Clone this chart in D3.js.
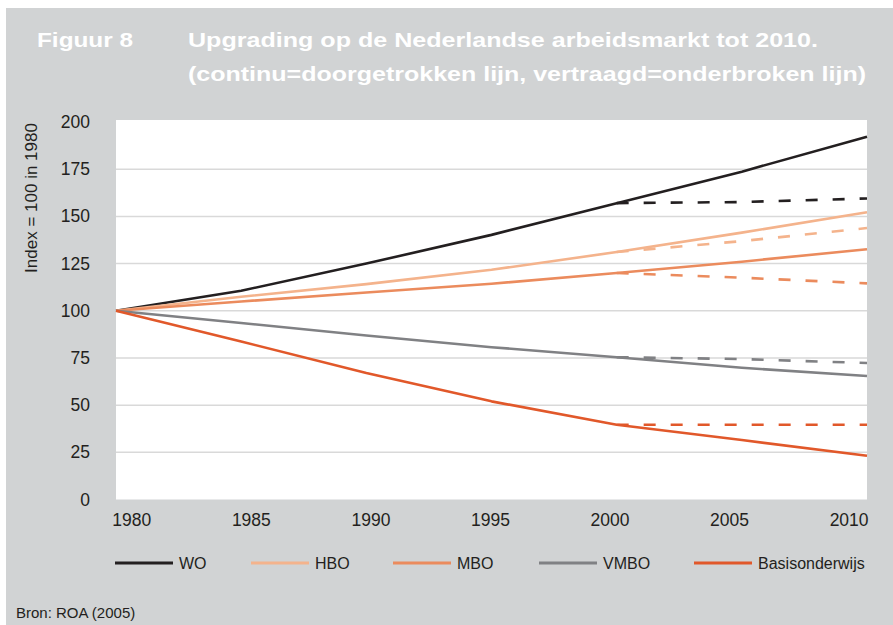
<!DOCTYPE html>
<meta charset="utf-8">

<!-- Load d3.js -->
<script src="https://d3js.org/d3.v7.min.js"></script>

<style>
    body { margin: 0; background: #fff; }
    text { font-family: "Liberation Sans", Arial, sans-serif; fill: #231f20; }
</style>

<!-- Create a div where the graph will take place -->
<div id="my_dataviz"></div>

<script>

    // Years on the x axis
    const years = [1980, 1985, 1990, 1995, 2000, 2005, 2010]
    const tickYears = ["1980", "1985", "1990", "1995", "2000", "2005", "2010"]

    // continu scenario (solid lines), index 1980 = 100
    const wo = [100, 110.6, 125, 140.2, 157, 173.7, 192.2]
    const hbo = [100, 107.4, 114.1, 121.7, 131.1, 141.4, 152.2]
    const mbo = [100, 104.9, 109.7, 114.3, 120, 126, 132.6]
    const vmbo = [100, 93.5, 86.9, 80.7, 75.4, 69.8, 65.4]
    const basis = [100, 83.7, 67, 52, 39.6, 31.5, 23.2]

    // vertraagd scenario (dashed lines), from 2000 on
    const delayYears = [2000, 2005, 2010]
    const woDelay = [157, 157.6, 159.5]
    const hboDelay = [131.1, 136.9, 143.8]
    const mboDelay = [120, 117.5, 114.5]
    const vmboDelay = [75.4, 74.4, 72.3]
    const basisDelay = [39.6, 39.6, 39.6]

    const yTicks = [0, 25, 50, 75, 100, 125, 150, 175, 200]

    const series = [
        { name: "WO", color: "#231f20", values: wo, delay: woDelay },
        { name: "HBO", color: "#f4b38c", values: hbo, delay: hboDelay },
        { name: "MBO", color: "#eb8b5d", values: mbo, delay: mboDelay },
        { name: "VMBO", color: "#808184", values: vmbo, delay: vmboDelay },
        { name: "Basisonderwijs", color: "#e1582a", values: basis, delay: basisDelay }
    ]

    const width = 893, height = 625

    const svg = d3.select("#my_dataviz")
        .append("svg")
        .attr("width", width)
        .attr("height", height)

    // grey panel
    svg.append("rect")
        .attr("x", 6).attr("y", 8)
        .attr("width", width - 6).attr("height", height - 8)
        .attr("fill", "#d1d3d4")

    // title
    svg.append("text")
        .attr("x", 37).attr("y", 47)
        .attr("textLength", 96).attr("lengthAdjust", "spacingAndGlyphs")
        .style("font-size", "20.5px").style("font-weight", "bold").style("fill", "#fff")
        .text("Figuur 8")
    svg.append("text")
        .attr("x", 188).attr("y", 47)
        .attr("textLength", 630).attr("lengthAdjust", "spacingAndGlyphs")
        .style("font-size", "20.5px").style("font-weight", "bold").style("fill", "#fff")
        .text("Upgrading op de Nederlandse arbeidsmarkt tot 2010.")
    svg.append("text")
        .attr("x", 188).attr("y", 81)
        .attr("textLength", 678).attr("lengthAdjust", "spacingAndGlyphs")
        .style("font-size", "20.5px").style("font-weight", "bold").style("fill", "#fff")
        .text("(continu=doorgetrokken lijn, vertraagd=onderbroken lijn)")

    // scales
    const x = d3.scaleLinear()
        .domain([1980, 2010])
        .range([116, 867])

    const y = d3.scaleLinear()
        .domain([0, 200])
        .range([499.5, 122])

    // tick labels sit on their own evenly spaced positions
    const xLab = d3.scalePoint()
        .domain(tickYears)
        .range([131.3, 848.6])

    // plot area
    svg.append("rect")
        .attr("x", x(1980)).attr("y", 120)
        .attr("width", x(2010) - x(1980)).attr("height", y(0) - 120)
        .attr("fill", "#fff")

    // gridlines
    svg.append("g")
        .selectAll("line")
        .data(yTicks.filter(d => d > 0 && d < 200))
        .join("line")
        .attr("x1", x(1980)).attr("x2", x(2010))
        .attr("y1", d => y(d)).attr("y2", d => y(d))
        .attr("stroke", "#d9d9d9")
        .attr("stroke-width", 1.5)

    // y axis
    const yAxis = svg.append("g")
        .attr("transform", "translate(90,0)")
        .call(d3.axisLeft(y).tickValues(yTicks).tickSize(0).tickPadding(0))
    yAxis.select(".domain").remove()
    yAxis.selectAll("text")
        .style("font-size", "17.5px")
        .style("font-family", "Liberation Sans, Arial, sans-serif")
        .attr("fill", "#231f20")

    // x axis
    const xAxis = svg.append("g")
        .attr("transform", "translate(0,514)")
        .call(d3.axisBottom(xLab).tickSize(0).tickPadding(0))
    xAxis.select(".domain").remove()
    xAxis.selectAll("text")
        .style("font-size", "17.5px")
        .style("font-family", "Liberation Sans, Arial, sans-serif")
        .attr("fill", "#231f20")

    // y title
    svg.append("text")
        .attr("transform", "translate(37,198) rotate(-90)")
        .attr("text-anchor", "middle")
        .style("font-size", "17px")
        .text("Index = 100 in 1980")

    const line = d3.line()
        .x(d => x(d[0]))
        .y(d => y(d[1]))

    // dashed lines (vertraagd)
    svg.append("g")
        .selectAll("path")
        .data(series)
        .join("path")
        .attr("d", d => line(delayYears.map((yr, i) => [yr, d.delay[i]])))
        .attr("fill", "none")
        .attr("stroke", d => d.color)
        .attr("stroke-width", 2.6)
        .attr("stroke-dasharray", "12,15")

    // solid lines (continu)
    svg.append("g")
        .selectAll("path")
        .data(series)
        .join("path")
        .attr("d", d => line(years.map((yr, i) => [yr, d.values[i]])))
        .attr("fill", "none")
        .attr("stroke", d => d.color)
        .attr("stroke-width", 2.6)
        .attr("stroke-linejoin", "round")

    // legend
    const legX = [115, 251, 393, 539, 694]
    const leg = svg.append("g")
        .selectAll("g")
        .data(series)
        .join("g")
        .attr("transform", (d, i) => `translate(${legX[i]},563)`)
    leg.append("line")
        .attr("x1", 0).attr("x2", 58)
        .attr("stroke", d => d.color)
        .attr("stroke-width", 2.8)
    leg.append("text")
        .attr("x", 64).attr("y", 6)
        .style("font-size", "16px")
        .text(d => d.name)

    // source
    svg.append("text")
        .attr("x", 16).attr("y", 618)
        .style("font-size", "15px")
        .text("Bron: ROA (2005)")

</script>
